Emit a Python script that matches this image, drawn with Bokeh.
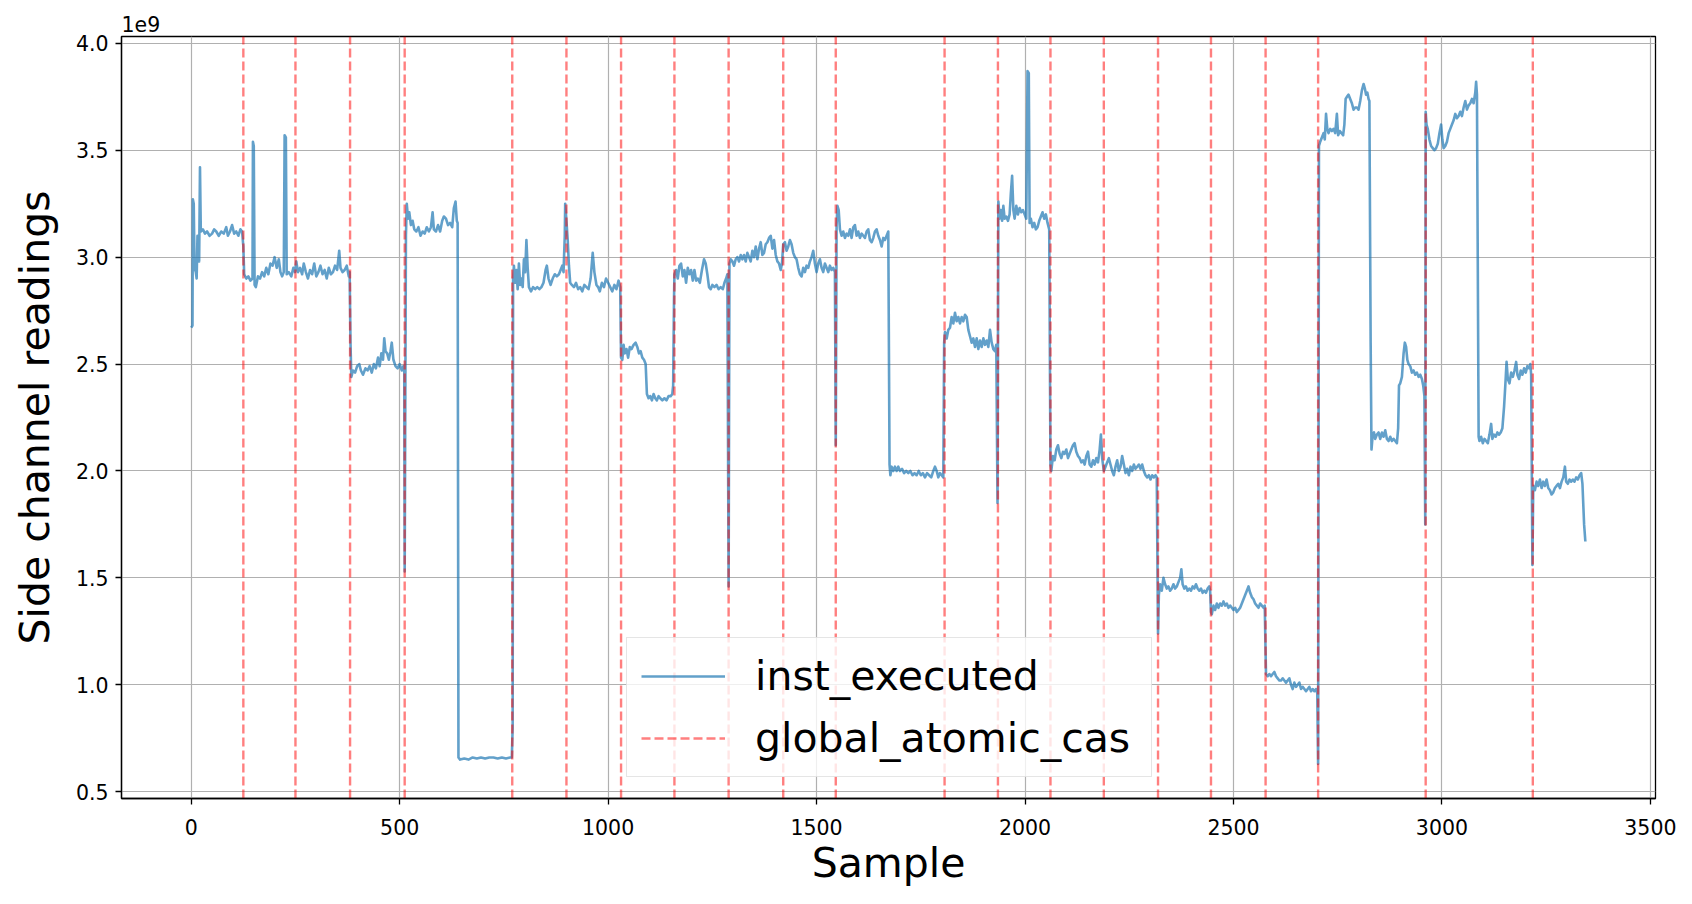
from bokeh.plotting import figure
from bokeh.models import Range1d, FixedTicker, Legend, LegendItem, NumeralTickFormatter
from bokeh.embed import file_html
from bokeh.resources import INLINE

# ---------------- data (readings in units of 1e9) ----------------
sample = [
    0, 3, 4, 6, 8, 11, 13, 15, 17, 19, 21, 23, 28, 33, 38, 44, 50, 55, 60, 66, 72, 78, 84, 88, 93, 98, 103, 108, 113, 118, 122,
    125, 127, 132, 137, 142, 147, 148, 150, 152, 155, 160, 165, 170, 175, 180, 185, 190, 195, 200, 205, 210, 214, 218, 222, 224, 227, 229, 234, 240, 245, 249,
    252, 256, 261, 266, 270, 275, 280, 285, 290, 295, 300, 305, 310, 315, 320, 325, 330, 335, 340, 345, 350, 355, 358, 363, 368, 373, 378, 380,
    382, 384, 388, 393, 398, 403, 407, 412, 418, 423, 428, 433, 438, 443, 448, 452, 456, 460, 463, 466, 470, 474, 478, 481, 485, 490, 495, 500, 505, 509, 511,
    512, 515, 517, 520, 523, 527, 531, 535, 540, 545, 550, 555, 560, 565, 570, 575, 579, 582, 587, 592, 597, 602, 606, 611, 616, 621, 626, 630, 634, 637, 639,
    641, 645, 655, 665, 675, 685, 695, 705, 715, 725, 735, 745, 755, 765, 769,
    771, 772, 774, 777, 780, 783, 786, 789, 792, 795, 798, 801, 804, 807, 810, 815, 820, 825, 830, 835, 840, 845, 850, 853, 857, 862, 867, 872, 877, 882, 886, 890, 893, 896, 897, 900, 903,
    906, 909, 913, 918, 923, 928, 933, 938, 943, 948, 953, 958, 963, 967, 972, 976, 980, 985, 990, 995, 1000, 1005, 1010, 1015, 1020, 1025, 1029,
    1031, 1034, 1037, 1040, 1044, 1048, 1052, 1056, 1061, 1066, 1070, 1074, 1078, 1082, 1086, 1090, 1093, 1097, 1101, 1105, 1109, 1113, 1117, 1121, 1125, 1130, 1135, 1140, 1145, 1150, 1154, 1156,
    1158, 1159, 1163, 1167, 1171, 1175, 1179, 1183, 1187, 1191, 1195, 1199, 1203, 1207, 1211, 1215, 1220, 1225, 1230, 1234, 1238, 1242, 1246, 1250, 1255, 1260, 1265, 1270, 1275, 1279, 1283, 1286,
    1289, 1291, 1294, 1298, 1302, 1306, 1310, 1314, 1318, 1322, 1326, 1330, 1334, 1338, 1342, 1346, 1350, 1354, 1358, 1362, 1366, 1370, 1374, 1378, 1382, 1386, 1390, 1394, 1398, 1402, 1406, 1410, 1414, 1417,
    1420, 1424, 1428, 1432, 1436, 1440, 1444, 1448, 1452, 1456, 1460, 1464, 1468, 1472, 1476, 1480, 1484, 1488, 1492, 1496, 1500, 1504, 1508, 1512, 1516, 1520, 1524, 1528, 1532, 1536, 1540, 1544,
    1546, 1548, 1550, 1553, 1556, 1560, 1564, 1568, 1572, 1576, 1580, 1584, 1588, 1592, 1596, 1600, 1604, 1608, 1612, 1616, 1620, 1624, 1628, 1632, 1636, 1640, 1644, 1648, 1652, 1656, 1660, 1664, 1668, 1672,
    1675, 1677, 1680, 1684, 1688, 1692, 1696, 1700, 1705, 1710, 1715, 1720, 1725, 1730, 1735, 1740, 1745, 1750, 1755, 1760, 1765, 1770, 1775, 1780, 1784, 1788, 1792, 1796, 1800, 1804,
    1806, 1808, 1812, 1816, 1820, 1824, 1828, 1832, 1836, 1840, 1844, 1848, 1852, 1856, 1860, 1864, 1868, 1872, 1876, 1880, 1884, 1888, 1892, 1896, 1900, 1904, 1908, 1912, 1916, 1920, 1924, 1928, 1931,
    1934, 1936, 1939, 1942, 1945, 1948, 1951, 1955, 1959, 1963, 1966, 1969, 1972, 1975, 1979, 1983, 1987, 1991, 1995, 1999, 2003, 2006, 2009, 2011, 2014, 2018, 2022, 2026, 2030, 2034, 2038, 2042, 2046, 2050, 2054, 2058,
    2061, 2063, 2067, 2071, 2075, 2079, 2083, 2087, 2091, 2095, 2099, 2103, 2107, 2111, 2115, 2119, 2123, 2127, 2131, 2135, 2139, 2143, 2147, 2151, 2155, 2159, 2163, 2167, 2171, 2175, 2179, 2182, 2185,
    2189, 2193, 2197, 2201, 2205, 2209, 2213, 2217, 2221, 2225, 2229, 2233, 2237, 2241, 2245, 2249, 2253, 2257, 2261, 2265, 2269, 2273, 2277, 2281, 2285, 2289, 2293, 2297, 2301, 2305, 2309, 2313, 2316,
    2319, 2321, 2324, 2328, 2332, 2336, 2340, 2344, 2348, 2352, 2356, 2360, 2364, 2368, 2372, 2375, 2378, 2382, 2386, 2390, 2394, 2398, 2402, 2406, 2410, 2414, 2418, 2422, 2426, 2430, 2434, 2438, 2442, 2444,
    2446, 2448, 2452, 2456, 2460, 2464, 2468, 2472, 2476, 2480, 2484, 2488, 2492, 2496, 2500, 2504, 2508, 2512, 2516, 2520, 2524, 2528, 2532, 2536, 2540, 2544, 2548, 2552, 2556, 2560, 2564, 2568, 2572, 2575,
    2577, 2578, 2582, 2586, 2590, 2594, 2598, 2602, 2606, 2610, 2614, 2618, 2622, 2626, 2630, 2634, 2638, 2642, 2646, 2650, 2654, 2658, 2662, 2666, 2670, 2674, 2678, 2682, 2686, 2690, 2694, 2698, 2701,
    2703, 2705, 2708, 2712, 2716, 2719, 2722, 2725, 2728, 2732, 2736, 2740, 2744, 2748, 2751, 2755, 2759, 2763, 2766, 2769, 2772, 2776, 2780, 2784, 2788, 2792, 2796, 2800, 2804, 2808, 2812, 2815, 2818, 2821, 2824, 2826,
    2829, 2831, 2834, 2837, 2840, 2844, 2848, 2852, 2856, 2860, 2864, 2868, 2872, 2876, 2880, 2884, 2888, 2892, 2895, 2897, 2900, 2904, 2908, 2911, 2914, 2917, 2920, 2924, 2928, 2932, 2936, 2940, 2944, 2948, 2952, 2955, 2958,
    2960, 2961, 2963, 2966, 2970, 2974, 2978, 2982, 2986, 2990, 2994, 2998, 3001, 3004, 3008, 3012, 3016, 3020, 3024, 3028, 3032, 3036, 3040, 3044, 3048, 3052, 3056, 3060, 3064, 3068, 3072, 3076, 3080, 3082, 3084,
    3088, 3090, 3094, 3098, 3102, 3106, 3110, 3114, 3118, 3121, 3125, 3129, 3133, 3137, 3141, 3145, 3149, 3152, 3155, 3158, 3162, 3166, 3170, 3174, 3178, 3181, 3185, 3189, 3193, 3197, 3201, 3205, 3209, 3212, 3214,
    3217, 3219, 3223, 3227, 3231, 3235, 3239, 3243, 3247, 3251, 3255, 3259, 3263, 3267, 3271, 3275, 3279, 3283, 3287, 3291, 3295, 3298, 3302, 3306, 3310, 3314, 3318, 3322, 3326, 3330, 3334, 3337, 3341, 3344,
]

reading = [
    2.67, 2.68, 3.27, 3.25, 2.95, 2.93, 2.90, 3.10, 3.05, 2.98, 3.42, 3.12, 3.13, 3.11, 3.12, 3.10, 3.11, 3.13, 3.12, 3.10, 3.12, 3.11, 3.14, 3.10, 3.12, 3.15, 3.11, 3.12, 3.10, 3.13, 3.12,
    3.05, 2.92, 2.90, 2.91, 2.89, 2.90, 3.54, 3.52, 2.87, 2.86, 2.91, 2.90, 2.93, 2.91, 2.95, 2.92, 2.97, 2.96, 3.00, 2.95, 2.99, 2.93, 2.91, 2.93, 3.57, 3.56, 2.92, 2.93, 2.91, 2.95, 2.93,
    2.98, 2.93, 2.95, 2.92, 2.97, 2.93, 2.90, 2.94, 2.92, 2.97, 2.91, 2.93, 2.96, 2.92, 2.94, 2.90, 2.95, 2.92, 2.93, 2.96, 2.94, 3.03, 2.95, 2.93, 2.94, 2.96, 2.91, 2.93,
    2.60, 2.44, 2.47, 2.46, 2.49, 2.50, 2.47, 2.45, 2.48, 2.47, 2.49, 2.46, 2.50, 2.48, 2.53, 2.49, 2.55, 2.52, 2.62, 2.56, 2.55, 2.52, 2.56, 2.60, 2.52, 2.49, 2.48, 2.50, 2.47, 2.49, 2.48,
    1.53, 3.10, 3.25, 3.18, 3.21, 3.15, 3.17, 3.13, 3.12, 3.14, 3.10, 3.12, 3.11, 3.14, 3.12, 3.14, 3.21, 3.13, 3.12, 3.15, 3.12, 3.17, 3.19, 3.18, 3.15, 3.16, 3.14, 3.23, 3.26, 3.17, 3.16,
    0.66, 0.65, 0.655, 0.65, 0.66, 0.655, 0.66, 0.655, 0.66, 0.66, 0.655, 0.66, 0.655, 0.66, 0.66,
    0.80, 2.90, 2.96, 2.88, 2.94, 2.85, 2.97, 2.87, 2.90, 2.86, 2.99, 2.93, 3.08, 2.95, 2.86, 2.84, 2.86, 2.85, 2.86, 2.85, 2.86, 2.88, 2.94, 2.96, 2.90, 2.87, 2.90, 2.92, 2.91, 2.92, 2.94, 2.96, 2.93, 3.10, 3.25, 3.17, 3.08,
    2.96, 2.88, 2.87, 2.86, 2.88, 2.85, 2.86, 2.84, 2.87, 2.86, 2.85, 2.90, 3.02, 2.93, 2.87, 2.86, 2.84, 2.88, 2.86, 2.90, 2.88, 2.86, 2.84, 2.87, 2.85, 2.89, 2.86,
    2.53, 2.52, 2.59, 2.55, 2.57, 2.53, 2.58, 2.57, 2.59, 2.60, 2.58, 2.55, 2.56, 2.53, 2.52, 2.50, 2.36, 2.34, 2.35, 2.33, 2.36, 2.34, 2.33, 2.35, 2.34, 2.33, 2.34, 2.33, 2.35, 2.35, 2.36, 2.40,
    2.80, 2.92, 2.94, 2.90, 2.96, 2.97, 2.91, 2.94, 2.88, 2.95, 2.92, 2.94, 2.89, 2.94, 2.89, 2.90, 2.88, 2.94, 2.99, 2.97, 2.92, 2.86, 2.85, 2.87, 2.86, 2.87, 2.85, 2.86, 2.85, 2.88, 2.90, 2.92,
    1.46, 2.97, 2.99, 2.98, 2.96, 2.99, 3.00, 2.98, 3.01, 2.99, 3.01, 2.98, 3.02, 3.00, 2.98, 3.03, 3.00, 3.05, 2.99, 3.04, 3.07, 3.01, 3.02, 3.06, 3.07, 3.09, 3.10, 3.04, 3.08, 3.01, 2.98, 2.97, 2.94, 2.97,
    3.06, 3.07, 3.03, 3.05, 3.08, 3.06, 3.02, 3.00, 2.99, 2.95, 2.92, 2.91, 2.95, 2.93, 2.96, 2.95, 2.98, 3.00, 3.03, 2.97, 2.93, 2.97, 2.99, 2.95, 2.93, 2.97, 2.95, 2.93, 2.96, 2.94, 2.95, 2.93,
    2.12, 3.15, 3.24, 3.22, 3.13, 3.10, 3.12, 3.09, 3.11, 3.10, 3.13, 3.09, 3.14, 3.15, 3.10, 3.12, 3.09, 3.11, 3.10, 3.09, 3.12, 3.13, 3.08, 3.07, 3.09, 3.12, 3.13, 3.10, 3.08, 3.05, 3.09, 3.08, 3.10, 3.12,
    2.03, 1.98, 2.02, 2.00, 2.02, 2.00, 2.02, 2.00, 2.01, 1.99, 2.00, 1.99, 2.00, 1.98, 1.99, 1.98, 2.00, 1.98, 1.99, 1.97, 1.99, 1.98, 1.97, 2.00, 2.02, 2.00, 1.97, 1.99, 1.98, 1.97,
    2.60, 2.65, 2.62, 2.66, 2.67, 2.72, 2.69, 2.74, 2.70, 2.72, 2.69, 2.72, 2.70, 2.73, 2.72, 2.66, 2.63, 2.60, 2.62, 2.58, 2.62, 2.57, 2.61, 2.58, 2.62, 2.59, 2.61, 2.58, 2.66, 2.60, 2.57, 2.56, 2.59,
    1.85, 3.26, 3.18, 3.22, 3.17, 3.24, 3.18, 3.19, 3.17, 3.20, 3.30, 3.38, 3.22, 3.18, 3.24, 3.20, 3.23, 3.21, 3.22, 3.20, 3.18, 3.87, 3.86, 3.16, 3.18, 3.14, 3.16, 3.13, 3.14, 3.17, 3.19, 3.21, 3.18, 3.20, 3.16, 3.13,
    2.03, 2.00, 2.07, 2.05, 2.10, 2.12, 2.08, 2.06, 2.09, 2.08, 2.10, 2.06, 2.08, 2.10, 2.12, 2.13, 2.09, 2.07, 2.06, 2.04, 2.05, 2.03, 2.07, 2.09, 2.03, 2.02, 2.05, 2.03, 2.06, 2.04, 2.10, 2.17, 2.06,
    2.00, 2.02, 2.04, 2.06, 2.03, 2.00, 1.98, 2.02, 2.05, 2.00, 2.02, 2.07, 2.03, 1.99, 2.01, 1.98, 2.02, 2.00, 2.03, 2.01, 2.02, 2.03, 2.01, 2.03, 2.00, 1.98, 1.97, 1.98, 1.96, 1.98, 1.97, 1.98, 1.97,
    1.24, 1.42, 1.47, 1.44, 1.50, 1.47, 1.45, 1.46, 1.44, 1.45, 1.47, 1.45, 1.46, 1.48, 1.50, 1.54, 1.47, 1.45, 1.46, 1.44, 1.45, 1.44, 1.46, 1.45, 1.47, 1.45, 1.44, 1.45, 1.43, 1.44, 1.43, 1.45, 1.46, 1.44,
    1.34, 1.33, 1.37, 1.35, 1.38, 1.36, 1.38, 1.37, 1.39, 1.37, 1.38, 1.36, 1.37, 1.36, 1.35, 1.36, 1.34, 1.35, 1.36, 1.38, 1.40, 1.42, 1.44, 1.46, 1.43, 1.41, 1.40, 1.38, 1.37, 1.36, 1.38, 1.37, 1.36, 1.37,
    1.15, 1.05, 1.04, 1.05, 1.04, 1.05, 1.06, 1.04, 1.03, 1.02, 1.02, 1.03, 1.02, 1.01, 1.02, 1.03, 1.00, 0.98, 1.01, 0.99, 1.00, 1.01, 0.98, 0.99, 0.98, 0.97, 0.98, 0.99, 0.97, 0.98, 0.97, 0.98, 0.96,
    0.63, 3.52, 3.54, 3.56, 3.58, 3.55, 3.67, 3.60, 3.58, 3.60, 3.59, 3.60, 3.58, 3.67, 3.57, 3.59, 3.58, 3.57, 3.62, 3.74, 3.75, 3.76, 3.74, 3.72, 3.69, 3.70, 3.70, 3.69, 3.73, 3.78, 3.81, 3.79, 3.76, 3.77, 3.74, 3.73,
    2.60, 2.10, 2.17, 2.18, 2.15, 2.17, 2.18, 2.15, 2.18, 2.16, 2.19, 2.15, 2.14, 2.16, 2.14, 2.15, 2.14, 2.13, 2.20, 2.40, 2.41, 2.44, 2.55, 2.60, 2.58, 2.52, 2.50, 2.49, 2.46, 2.47, 2.45, 2.46, 2.44, 2.45, 2.43, 2.40, 2.35,
    1.75, 3.68, 3.62, 3.60, 3.55, 3.52, 3.51, 3.50, 3.51, 3.53, 3.58, 3.62, 3.55, 3.51, 3.52, 3.54, 3.58, 3.60, 3.62, 3.64, 3.67, 3.65, 3.66, 3.68, 3.66, 3.70, 3.73, 3.69, 3.71, 3.72, 3.74, 3.72, 3.77, 3.82, 3.76,
    2.16, 2.14, 2.16, 2.13, 2.15, 2.14, 2.13, 2.17, 2.22, 2.15, 2.17, 2.16, 2.18, 2.17, 2.18, 2.20, 2.30, 2.40, 2.51, 2.43, 2.41, 2.46, 2.44, 2.47, 2.51, 2.45, 2.43, 2.47, 2.45, 2.48, 2.46, 2.49, 2.48, 2.50, 2.45,
    1.56, 1.93, 1.91, 1.95, 1.93, 1.96, 1.92, 1.95, 1.93, 1.96, 1.92, 1.91, 1.89, 1.90, 1.92, 1.93, 1.94, 1.92, 1.95, 1.97, 2.02, 1.95, 1.94, 1.96, 1.95, 1.96, 1.95, 1.97, 1.96, 1.98, 1.99, 1.94, 1.75, 1.67,
]

# samples at which global_atomic_cas events occur
cas_events = [125, 250, 381, 512, 770, 900, 1031, 1159, 1289, 1420, 1546,
              1807, 1935, 2061, 2189, 2319, 2446, 2577, 2703, 2961, 3218]

x_ticks = [0, 500, 1000, 1500, 2000, 2500, 3000, 3500]
y_ticks = [0.5, 1.0, 1.5, 2.0, 2.5, 3.0, 3.5, 4.0]

# ---------------- figure ----------------
x_lo, x_hi = -167.25, 3512.25
y_lo, y_hi = 0.468, 4.032

FONT = "DejaVu Sans"
TICK_SIZE = "20.5px"
LABEL_SIZE = "41px"

p = figure(width=1692, height=904, output_backend="svg", toolbar_location=None,
           x_range=Range1d(x_lo, x_hi), y_range=Range1d(y_lo, y_hi),
           min_border_left=121, min_border_right=37, min_border_top=36, min_border_bottom=106,
           background_fill_color="white", border_fill_color="white")

# offset text "1e9" as a left-aligned title above the frame
p.title.text = "1e9"
p.title.align = "left"
p.title.text_font = FONT
p.title.text_font_size = TICK_SIZE
p.title.text_font_style = "normal"
p.title.text_color = "black"
p.title.standoff = 10
p.title.offset = 0

blue = p.line(sample, reading, line_color="#1f77b4", line_alpha=0.7, line_width=2.6,
              line_join="round")
red = p.segment(x0=cas_events, y0=[y_lo] * len(cas_events),
                x1=cas_events, y1=[y_hi] * len(cas_events),
                line_color="#ff0000", line_alpha=0.5, line_width=2.4, line_dash="9 4")

# axes
p.xaxis.ticker = FixedTicker(ticks=x_ticks)
p.yaxis.ticker = FixedTicker(ticks=y_ticks)
p.yaxis.formatter = NumeralTickFormatter(format="0.0")
p.xaxis.axis_label = "Sample"
p.yaxis.axis_label = "Side channel readings"
for ax in (p.xaxis, p.yaxis):
    ax.axis_label_text_font = FONT
    ax.axis_label_text_font_size = LABEL_SIZE
    ax.axis_label_text_font_style = "normal"
    ax.axis_label_text_color = "black"
    ax.major_label_text_font = FONT
    ax.major_label_text_font_size = TICK_SIZE
    ax.major_label_text_color = "black"
    ax.major_tick_in = 0
    ax.major_tick_out = 6
    ax.major_tick_line_width = 1.3
    ax.major_tick_line_color = "black"
    ax.minor_tick_line_color = None
    ax.axis_line_color = "black"
    ax.axis_line_width = 1.3
p.xaxis.major_label_standoff = 14
p.yaxis.major_label_standoff = 7
p.xaxis.axis_label_standoff = 1
p.yaxis.axis_label_standoff = 14

p.xgrid.grid_line_color = "#b0b0b0"
p.ygrid.grid_line_color = "#b0b0b0"
p.xgrid.grid_line_width = 1.2
p.ygrid.grid_line_width = 1.2

p.outline_line_color = "black"
p.outline_line_width = 1.3
p.outline_line_alpha = 1.0

legend = Legend(items=[LegendItem(label="inst_executed", renderers=[blue]),
                       LegendItem(label="global_atomic_cas", renderers=[red])],
                location=(505, 21))
legend.label_text_font = FONT
legend.label_text_font_size = LABEL_SIZE
legend.label_text_color = "black"
legend.glyph_width = 84
legend.glyph_height = 40
legend.label_height = 40
legend.label_width = 382
legend.label_standoff = 30
legend.spacing = 14
legend.padding = 14
legend.margin = 0
legend.border_line_color = "#cccccc"
legend.border_line_width = 1.3
legend.background_fill_color = "white"
legend.background_fill_alpha = 0.8
p.add_layout(legend)

open("out.html", "w").write(file_html(p, INLINE))
